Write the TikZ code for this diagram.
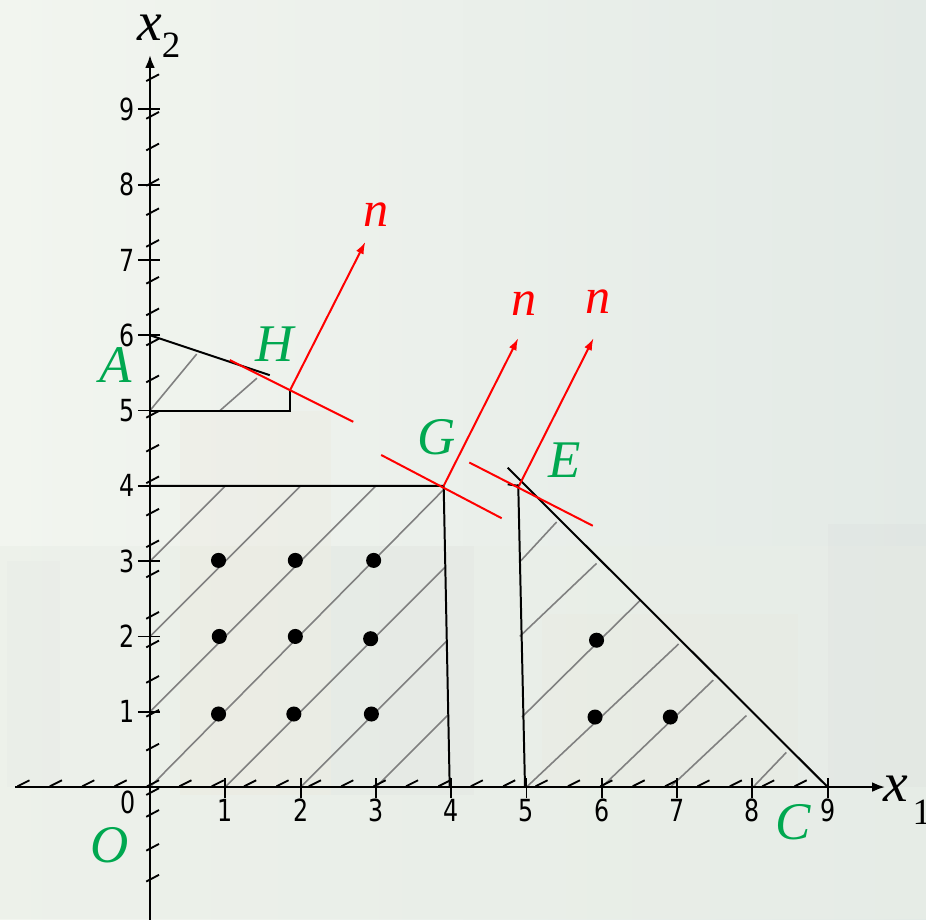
\documentclass[tikz,border=0pt]{standalone}
\usepackage{fontspec}
\setmainfont{Liberation Serif}
\newfontfamily\tickfont[FakeStretch=0.78]{DejaVu Sans}
\usetikzlibrary{arrows.meta}
\definecolor{bgc}{RGB}{233,238,231}
\definecolor{bgl}{RGB}{242,245,239}
\definecolor{bgr}{RGB}{227,234,230}
\definecolor{lblgreen}{RGB}{0,168,80}
\definecolor{hatchgray}{RGB}{128,128,128}
\begin{document}
\begin{tikzpicture}[x=1cm,y=1cm,
  axisline/.style={line width=0.8pt,-{Latex[length=1.7mm,width=1.3mm]}},
  edge/.style={line width=0.75pt,black},
  hatch/.style={line width=0.6pt,hatchgray},
  redline/.style={line width=0.75pt,red},
  normal/.style={line width=0.75pt,red,-{Latex[length=1.6mm,width=1.1mm]}},
  tickmark/.style={line width=0.7pt},
  slash/.style={line width=0.7pt},
  ticklbl/.style={font=\tickfont\fontsize{11.5}{12}\selectfont,inner sep=0pt},
  ptlbl/.style={text=lblgreen,font=\fontsize{20}{20}\selectfont\itshape,inner sep=0pt},
  nlbl/.style={text=red,font=\fontsize{19}{19}\selectfont\itshape,inner sep=0pt},
  dot/.style={circle,fill=black,inner sep=0pt,minimum size=2mm}]
% background
\shade[left color=bgl,right color=bgr] (-1.992,-1.753) rectangle (10.305,10.452);
\fill[bgc,opacity=0.5] (-1.992,-1.753) rectangle (10.305,3.2);
\fill[brown!30,opacity=0.12] (0.4,-0.1) rectangle (2.4,5.0);
\fill[gray!40,opacity=0.10] (2.4,-0.1) rectangle (4.3,3.2);
\fill[brown!25,opacity=0.10] (5.2,0.0) rectangle (8.6,2.3);
\fill[gray!40,opacity=0.10] (9.0,0.0) rectangle (10.305,3.5);
\fill[gray!30,opacity=0.10] (-1.9,0.0) rectangle (-1.2,3.0);
\useasboundingbox (-1.992,-1.753) rectangle (10.305,10.452);

% named coordinates
\coordinate (O) at (0,0);
\coordinate (xs) at (-1.79,0);
\coordinate (xe) at (9.76,0);
\coordinate (ys) at (0,-1.9);
\coordinate (ye) at (0,9.72);
\coordinate (A) at (0,6);
\coordinate (A2) at (1.59,5.47);
\coordinate (P5) at (0,5);
\coordinate (Q5) at (1.86,5.0);
\coordinate (H) at (1.86,5.27);
\coordinate (P4) at (0,4);
\coordinate (G) at (3.9,4.0);
\coordinate (G0) at (3.98,0);
\coordinate (E) at (4.9,4.0);
\coordinate (Et) at (4.75,4.02);
\coordinate (E0) at (4.98,0);
\coordinate (Ctop) at (4.75,4.24);
\coordinate (C) at (9.0,0);

% hatching
\draw[hatch] (0,3) -- (1,4);
\draw[hatch] (0,2) -- (2,4);
\draw[hatch] (0,1) -- (3,4);
\draw[hatch] (0,0) -- (3.9,3.95);
\draw[hatch] (1,0) -- (3.92,2.92);
\draw[hatch] (2,0) -- (3.94,1.94);
\draw[hatch] (3,0) -- (3.96,0.96);
\draw[hatch] (0,5) -- (0.62,5.75);
\draw[hatch] (0.93,5.0) -- (1.42,5.43);
\draw[hatch] (4.91,2.99) -- (5.40,3.52);
\draw[hatch] (4.91,2.0) -- (5.93,2.97);
\draw[hatch] (4.94,0.93) -- (6.51,2.48);
\draw[hatch] (5.0,0) -- (7.02,1.90);
\draw[hatch] (6.0,0) -- (7.48,1.42);
\draw[hatch] (6.91,0) -- (7.92,0.95);
\draw[hatch] (8.01,0) -- (8.45,0.46);

% axes
\draw[axisline] (xs) -- (xe);
\draw[axisline] (ys) -- (ye);

% slashes on x axis
\foreach \s in {-1.76,-1.33,-0.90,-0.47,-0.04,0.39,0.82,1.25,1.68,2.11,2.54,2.97,3.40,3.83,4.26,4.69,5.12,5.55,5.98,6.41,6.84,7.27,7.70,8.13,8.56}
  \draw[slash] (\s,0.01) -- ++(0.16,0.08);
% slashes on y axis
\foreach \s in {-1.21,-0.80,-0.35,-0.06,0.53,0.98,1.43,1.90,2.28,2.83,3.23,3.65,4.08,4.50,4.95,5.42,5.91,6.31,6.73,7.22,7.64,8.03,8.50,8.92,9.42}
  \draw[slash] (-0.05,\s-0.045) -- (0.12,\s+0.045);

% ticks and tick labels
\foreach \k in {1,...,9} {
  \draw[tickmark] (\k,-0.15) -- (\k,0.12);
  \node[ticklbl] (xl\k) at (\k,-0.31) {\k};
  \draw[tickmark] (-0.16,\k) -- (0.13,\k);
  \node[ticklbl,anchor=east] (yl\k) at (-0.2,\k) {\k};
}
\node[ticklbl] (zero) at (-0.29,-0.21) {0};

% axis labels
\node[inner sep=0pt,font=\fontsize{21}{21}\selectfont\itshape] (x1) at (9.91,-0.02) {x};
\node[inner sep=0pt,font=\fontsize{14}{14}\selectfont] (x1s) at (10.25,-0.33) {1};
\node[inner sep=0pt,font=\fontsize{21}{21}\selectfont\itshape] (x2) at (0.0,10.09) {x};
\node[inner sep=0pt,font=\fontsize{14}{14}\selectfont] (x2s) at (0.28,9.85) {2};

% region boundaries
\draw[edge] (A) -- (A2);
\draw[edge] (P5) -- (Q5) -- (H);
\draw[edge] (P4) -- (G) -- (G0);
\draw[edge] (Et) -- (E);
\draw[edge] (4.89,4.02) -- (E0);
\draw[edge] (Ctop) -- (C);

% red support lines and normals
\coordinate (h1) at (1.06,5.67); \coordinate (h2) at (2.70,4.85); \coordinate (hn) at (2.86,7.24);
\coordinate (g1) at (3.07,4.41); \coordinate (g2) at (4.67,3.57); \coordinate (gn) at (4.89,5.96);
\coordinate (e1) at (4.24,4.31); \coordinate (e2) at (5.88,3.47); \coordinate (en) at (5.89,5.96);
\draw[redline] (h1) -- (h2);
\draw[redline] (g1) -- (g2);
\draw[redline] (e1) -- (e2);
\draw[normal] (H) -- (hn);
\draw[normal] (G) -- (gn);
\draw[normal] (E) -- (en);

% integer points
\foreach \p/\q [count=\i] in {0.91/3.01,1.93/3.01,2.97/3.01,0.92/2.0,1.93/2.0,2.93/1.97,0.91/0.97,1.91/0.97,2.94/0.97,5.93/1.95,5.91/0.93,6.91/0.93}
  \node[dot] (d\i) at (\p,\q) {};

% labels
\node[ptlbl] (lA) at (-0.45,5.6) {A};
\node[ptlbl] (lH) at (1.65,5.88) {H};
\node[ptlbl] (lG) at (3.81,4.65) {G};
\node[ptlbl] (lE) at (5.5,4.34) {E};
\node[ptlbl] (lC) at (8.54,-0.47) {C};
\node[ptlbl] (lO) at (-0.54,-0.77) {O};
\node[nlbl] (n1) at (3.0,7.6) {n};
\node[nlbl] (n2) at (4.97,6.42) {n};
\node[nlbl] (n3) at (5.95,6.44) {n};
\end{tikzpicture}
\end{document}
